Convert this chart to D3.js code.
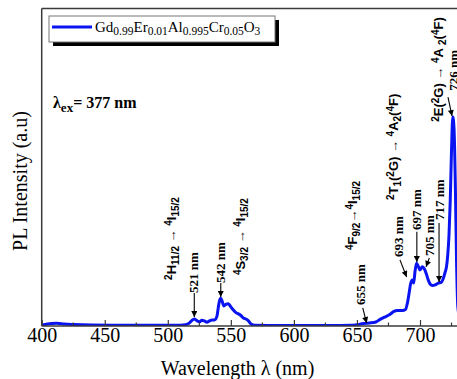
<!DOCTYPE html>
<html><head><meta charset="utf-8">
<script src="https://cdn.jsdelivr.net/npm/d3@7"></script>
<style>body{margin:0;background:#fff}svg{display:block}</style>
</head><body>
<script>
// ---- data ----
const wavelength = [400,403,408,412,418,425,440,480,510,514,517,519,521,523,525,527,529,531,533,535,537,539,540,541,542,543,544.5,546,548,550,552,554,556,558,560,562,564,566,569,580,620,645,650,655,660,665,668,672,676,679,682,686,688.5,690,691.5,692.5,694,695,696,697.3,698.5,700,701.8,703.5,705,706.5,708,710,712,714.5,717,718.6,720,721,722,723,724,725,726,727,728,729,730,732,740,750];
const intensity  = [0.3,0.5,0.8,0.85,0.6,0.45,0.3,0.25,0.25,0.4,0.9,1.7,2.2,1.7,1.3,1.8,1.6,1.2,1.6,1.9,1.9,3.1,5.7,7.9,8.7,7.9,6.3,6.8,7.0,6.0,5.0,4.2,3.8,3.3,2.5,2.2,1.6,0.6,0.2,0.15,0.15,0.2,0.4,0.8,0.95,1.25,2.0,2.8,3.6,4.5,4.9,4.9,5.2,7.2,10.7,13.2,14.5,13.5,17,19.7,18.9,17.6,18.6,17.9,16.4,14.5,13.2,12.7,12.9,13.5,13.8,15.1,17.0,18.6,22.3,28.6,39.6,55.3,65.7,62,45,20,6,2,0.5,0.3];
const xTicks = [400,450,500,550,600,650,700];
const xMinorTicks = [425,475,525,575,625,675,725];
const legendLabel = [["Gd",""],["0.99","sub"],["Er",""],["0.01","sub"],["Al",""],["0.995","sub"],["Cr",""],["0.05","sub"],["O",""],["3","sub"]];
// peak annotations: label, text position (nm, a.u.), arrow tail, arrow tip
const peakLabels = ["521 nm","542 nm","655 nm","693 nm","697 nm","705 nm","717 nm","726 nm"];
const peakTextAt = [[520.4,10.4],[541.4,13.5],[652.4,6.6],[683.3,21.7],[697.5,30.2],[707.1,22],[715.1,33.3],[726.6,74]];
const peakArrowFrom = [[521,10.4],[542,13.5],[654.6,5.7],[684.1,20.8],[697.5,29.6],[707.4,21.4],[715.1,32.4],[722.2,72]];
const peakArrowTo = [[521,2.8],[542,9.1],[657.7,0.9],[689.4,15.4],[697.5,20.1],[704.8,18.6],[715.1,13.8],[725.4,66]];
const transitions = [
  [["2","sup"],["H",""],["11/2","sub"],[" \u2192 ",""],["4","sup"],["I",""],["15/2","sub"]],
  [["4","sup"],["S",""],["3/2","sub"],[" \u2192 ",""],["4","sup"],["I",""],["15/2","sub"]],
  [["4","sup"],["F",""],["9/2","sub"],["\u2192",""],["4","sup"],["I",""],["15/2","sub"]],
  [["2","sup"],["T",""],["1","sub"],["(",""],["2","sup"],["G) \u2192 ",""],["4","sup"],["A",""],["2","sub"],["(",""],["4","sup"],["F)",""]],
  [["2","sup"],["E(",""],["2","sup"],["G) \u2192 ",""],["4","sup"],["A ",""],["2","sub"],["(",""],["4","sup"],["F)",""]]
];
const transitionAt = [[502.5,14.5],[558,16],[646.1,23.9],[678.6,39.6],[714.3,64.2]];

// ---- layout ----
const W = 457, H = 379;
const m = {l: 41.7, t: 8.5, b: 326};
const svg = d3.select("body").append("svg").attr("width", W).attr("height", H);
const x = d3.scaleLinear().domain([400, 750]).range([m.l, m.l + 350 * 1.261]);
const y = d3.scaleLinear().domain([0, 100]).range([m.b, m.b - 318]);

svg.append("defs").append("clipPath").attr("id", "clip")
  .append("rect").attr("x", m.l).attr("y", m.t).attr("width", W - m.l).attr("height", m.b - m.t);
const mk = svg.select("defs").append("marker").attr("id", "ah").attr("viewBox", "0 0 10 10")
  .attr("refX", 10).attr("refY", 5).attr("markerWidth", 7).attr("markerHeight", 6)
  .attr("markerUnits", "userSpaceOnUse").attr("orient", "auto");
mk.append("path").attr("d", "M0,0 L10,5 L0,10 Z").attr("fill", "#000");

// curve
const pts = wavelength.map((w, i) => [w, intensity[i]]);
svg.append("path").datum(pts).attr("clip-path", "url(#clip)")
  .attr("fill", "none").attr("stroke", "#0a14f0").attr("stroke-width", 3).attr("stroke-linejoin", "round")
  .attr("d", d3.line().x(d => x(d[0])).y(d => y(d[1])).curve(d3.curveMonotoneX));

// frame
const frameCol = "#3a3a3a";
svg.append("line").attr("x1", m.l).attr("x2", W).attr("y1", m.t).attr("y2", m.t).attr("stroke", frameCol).attr("stroke-width", 1.5);
svg.append("line").attr("x1", m.l).attr("x2", m.l).attr("y1", m.t).attr("y2", m.b).attr("stroke", frameCol).attr("stroke-width", 1.5);

// x axis
const ax = svg.append("g").attr("transform", `translate(0,${m.b})`)
  .call(d3.axisBottom(x).tickValues(xTicks).tickSizeInner(-6).tickSizeOuter(0).tickFormat(d3.format("d")));
ax.select(".domain").attr("d", `M${m.l},0H${W}`).attr("stroke", frameCol).attr("stroke-width", 1.5);
ax.selectAll(".tick line").attr("stroke", frameCol).attr("stroke-width", 1.2);
ax.selectAll(".tick text").attr("y", 15.5).attr("dy", 0).attr("font-family", "Liberation Serif")
  .attr("font-size", 20).attr("fill", "#000");
svg.append("g").selectAll("line").data(xMinorTicks).join("line")
  .attr("x1", d => x(d)).attr("x2", d => x(d)).attr("y1", m.b).attr("y2", m.b - 3.5)
  .attr("stroke", frameCol).attr("stroke-width", 1.2);

svg.append("text").attr("x", 237.5).attr("y", 375).attr("text-anchor", "middle")
  .attr("font-family", "Liberation Serif").attr("font-size", 20).text("Wavelength \u03bb (nm)");
svg.append("text").attr("transform", "translate(27,181) rotate(-90)").attr("text-anchor", "middle")
  .attr("font-family", "Liberation Serif").attr("font-size", 20).text("PL Intensity (a.u)");

// rich text helper
function rich(sel, parts, fs, sfs) {
  parts.forEach(([t, k]) => {
    const ts = sel.append("tspan").text(t);
    if (k === "sub") ts.attr("font-size", sfs).attr("baseline-shift", "-28%");
    else if (k === "sup") ts.attr("font-size", sfs).attr("baseline-shift", "42%");
  });
}

// legend
svg.append("rect").attr("x", 53).attr("y", 20).attr("width", 226).attr("height", 26).attr("fill", "#000");
svg.append("rect").attr("x", 49).attr("y", 16).attr("width", 226).attr("height", 26).attr("fill", "#fff")
  .attr("stroke", "#777").attr("stroke-width", 1);
svg.append("line").attr("x1", 52).attr("x2", 92).attr("y1", 27).attr("y2", 27).attr("stroke", "#0a14f0").attr("stroke-width", 3);
rich(svg.append("text").attr("x", 95).attr("y", 32).attr("font-family", "Liberation Serif").attr("font-size", 15),
  legendLabel, 15, 11.5);

// excitation label
const ex = svg.append("text").attr("x", 53).attr("y", 108).attr("font-family", "Liberation Serif")
  .attr("font-size", 16).attr("font-weight", "bold");
ex.append("tspan").text("\u03bb");
ex.append("tspan").text("ex").attr("baseline-shift", "-30%").attr("font-size", 13);
ex.append("tspan").text("= 377 nm");

// arrows
const ann = svg.append("g");
peakLabels.forEach((lab, i) => {
  ann.append("line").attr("x1", x(peakArrowFrom[i][0])).attr("y1", y(peakArrowFrom[i][1]))
    .attr("x2", x(peakArrowTo[i][0])).attr("y2", y(peakArrowTo[i][1]))
    .attr("stroke", "#000").attr("stroke-width", 1.1).attr("marker-end", "url(#ah)");
  const fs = 13;
  ann.append("text").attr("transform", `translate(${x(peakTextAt[i][0]) + fs * 0.35},${y(peakTextAt[i][1])}) rotate(-90)`)
    .attr("font-family", "Liberation Serif").attr("font-weight", "bold").attr("font-size", fs).text(lab);
});
transitions.forEach((parts, i) => {
  const fs = 13;
  const t = ann.append("text").attr("transform", `translate(${x(transitionAt[i][0]) + fs * 0.35},${y(transitionAt[i][1])}) rotate(-90)`)
    .attr("font-family", "Liberation Sans").attr("font-weight", "bold").attr("font-size", fs);
  rich(t, parts, fs, 10);
});
</script>
</body></html>
